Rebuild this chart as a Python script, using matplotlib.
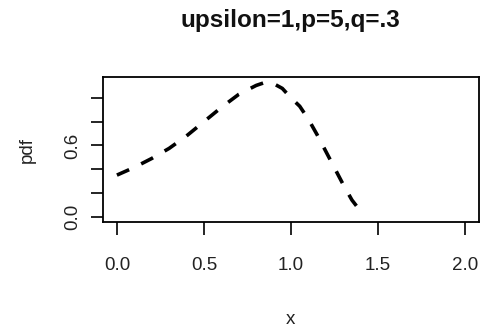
import matplotlib
matplotlib.use("Agg")
import matplotlib.pyplot as plt

x_vals = [0.0, 0.1, 0.2, 0.3, 0.4, 0.5, 0.6, 0.7, 0.8, 0.85, 0.9, 0.95, 1.0,
          1.05, 1.1, 1.15, 1.2, 1.25, 1.3, 1.35, 1.4, 1.415]
pdf_vals = [0.35, 0.415, 0.49, 0.575, 0.68, 0.80, 0.92, 1.03, 1.105, 1.13, 1.12,
            1.08, 1.0, 0.93, 0.82, 0.69, 0.55, 0.41, 0.27, 0.14, 0.045, 0.02]
x_ticks = [0.0, 0.5, 1.0, 1.5, 2.0]
x_tick_labels = ["0.0", "0.5", "1.0", "1.5", "2.0"]
y_ticks = [0.0, 0.2, 0.4, 0.6, 0.8, 1.0]
y_tick_labels = ["0.0", "", "", "0.6", "", ""]
title = "upsilon=1,p=5,q=.3"

plt.rcParams['font.family'] = ['Liberation Sans', 'DejaVu Sans']
W, H = 481, 331
fig = plt.figure(figsize=(W / 100, H / 100), dpi=100)
ax = fig.add_axes([103 / W, 1 - 222 / H, (479 - 103) / W, (222 - 77) / H])
ax.plot(x_vals, pdf_vals, color='black', lw=2.6, linestyle=(0, (3.7, 3.7)))
ax.set_xlim(-0.08, 2.08)
ax.set_ylim(-0.045, 1.176)
ax.set_xticks(x_ticks)
ax.set_xticklabels(x_tick_labels, fontsize=13.5, color='#222222')
ax.set_yticks(y_ticks)
ax.set_yticklabels(y_tick_labels, fontsize=13.5, rotation=90, va='center', color='#222222')
ax.tick_params(axis='both', length=9, width=1.2, direction='out')
ax.tick_params(axis='x', pad=16)
ax.tick_params(axis='y', pad=7)
for s in ax.spines.values():
    s.set_linewidth(1.3)
fig.text(290 / W, 1 - 319 / H, "x", ha='center', va='center', fontsize=13.5, color='#222222')
fig.text(27 / W, 1 - 150 / H, "pdf", ha='center', va='center', rotation=90, fontsize=13.5, color='#222222')
fig.text(290 / W, 1 - 27 / H, title, ha='center', va='baseline', fontsize=17.5, fontweight='bold', color='#111111')
fig.savefig("out.png", dpi=100)
